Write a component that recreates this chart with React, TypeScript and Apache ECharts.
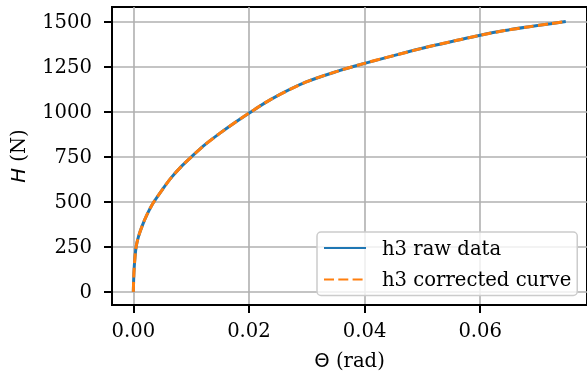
import React, { useEffect, useRef } from "react";
import * as echarts from "echarts";

// Θ (rad) and H (N)
const theta = [0, 0.0001, 0.0003, 0.0005, 0.0009, 0.0015, 0.0023, 0.0034, 0.0051, 0.0066, 0.0084, 0.0101, 0.0124, 0.015, 0.0179, 0.02, 0.0238, 0.0298, 0.0355, 0.04, 0.0442, 0.051, 0.0556, 0.06, 0.0642, 0.0682, 0.0722, 0.0748];
const hRaw = [0, 105, 198, 253, 308, 364, 425, 492, 572, 636, 700, 752, 818, 882, 948, 993, 1070, 1165, 1228, 1270, 1306, 1362, 1395, 1426, 1452, 1472, 1490, 1502];
const hCorrected = [0, 105, 198, 253, 308, 364, 425, 492, 572, 636, 700, 752, 818, 882, 948, 993, 1070, 1165, 1228, 1270, 1306, 1362, 1395, 1426, 1452, 1472, 1490, 1502];

const xTicks = [0, 0.02, 0.04, 0.06];
const yTicks = [0, 250, 500, 750, 1000, 1250, 1500];
const seriesNames = ["h3 raw data", "h3 corrected curve"];

const FONT = "DejaVu Serif";
const FS = 19.6;

export default function App() {
  const ref = useRef<HTMLDivElement>(null);
  useEffect(() => {
    if (!ref.current) return;
    const chart = echarts.init(ref.current, undefined, { renderer: "svg" });
    const axisCommon = {
      axisLine: { show: true, onZero: false, lineStyle: { color: "#000", width: 2 } },
      axisTick: { show: true, inside: false, length: 8, lineStyle: { color: "#000", width: 2 } },
      splitLine: { show: true, lineStyle: { color: "#b0b0b0", width: 1.6 } },
    };
    chart.setOption({
      animation: false,
      textStyle: { fontFamily: FONT },
      grid: {
        left: 111,
        right: -3,
        top: 7,
        bottom: 70,
        show: true,
        borderColor: "#000",
        borderWidth: 2,
        backgroundColor: "transparent",
      },
      xAxis: {
        type: "value",
        min: -0.00369,
        max: 0.07847,
        ...axisCommon,
        axisTick: { ...axisCommon.axisTick, customValues: xTicks },
        axisLabel: {
          customValues: xTicks,
          margin: 15,
          fontSize: FS,
          color: "#000",
          fontFamily: FONT,
          formatter: (v: number) => v.toFixed(2),
        },
        name: "{m|Θ} (rad)",
        nameLocation: "middle",
        nameGap: 45,
        nameTextStyle: {
          fontSize: FS,
          color: "#000",
          fontFamily: FONT,
          rich: { m: { fontSize: FS, fontFamily: "DejaVu Sans", color: "#000" } },
        },
      },
      yAxis: {
        type: "value",
        min: -73,
        max: 1583,
        ...axisCommon,
        axisTick: { ...axisCommon.axisTick, customValues: yTicks },
        axisLabel: {
          customValues: yTicks,
          margin: 20,
          fontSize: FS,
          color: "#000",
          fontFamily: FONT,
          formatter: (v: number) => String(v),
        },
        name: "{i|H} (N)",
        nameLocation: "middle",
        nameRotate: 90,
        nameGap: 84,
        nameTextStyle: {
          fontSize: FS,
          color: "#000",
          fontFamily: FONT,
          rich: { i: { fontSize: FS, fontFamily: "DejaVu Sans", fontStyle: "italic", color: "#000" } },
        },
      },
      legend: {
        show: true,
        orient: "vertical",
        left: 317,
        top: 232,
        padding: [6, 6, 6, 6],
        itemWidth: 42,
        itemHeight: 18,
        itemGap: 11.4,
        itemStyle: { opacity: 0 },
        backgroundColor: "rgba(255,255,255,0.8)",
        borderColor: "#cccccc",
        borderWidth: 1.5,
        borderRadius: 4,
        textStyle: { fontSize: FS, fontFamily: FONT, color: "#000", lineHeight: 18, padding: [0, 0, 0, 11] },
        data: seriesNames,
      },
      series: [
        {
          name: seriesNames[0],
          type: "line",
          data: theta.map((t, i) => [t, hRaw[i]]),
          symbol: "none",
          smooth: 0.3,
          lineStyle: { color: "#1f77b4", width: 3 },
          itemStyle: { color: "#1f77b4" },
        },
        {
          name: seriesNames[1],
          type: "line",
          data: theta.map((t, i) => [t, hCorrected[i]]),
          symbol: "none",
          smooth: 0.3,
          lineStyle: { color: "#ff7f0e", width: 3, type: [10, 4.3] },
          itemStyle: { color: "#ff7f0e" },
        },
      ],
    });
    return () => chart.dispose();
  }, []);
  return (
    <div
      ref={ref}
      style={{ position: "fixed", left: 0, top: 0, width: 587, height: 375 }}
    />
  );
}
